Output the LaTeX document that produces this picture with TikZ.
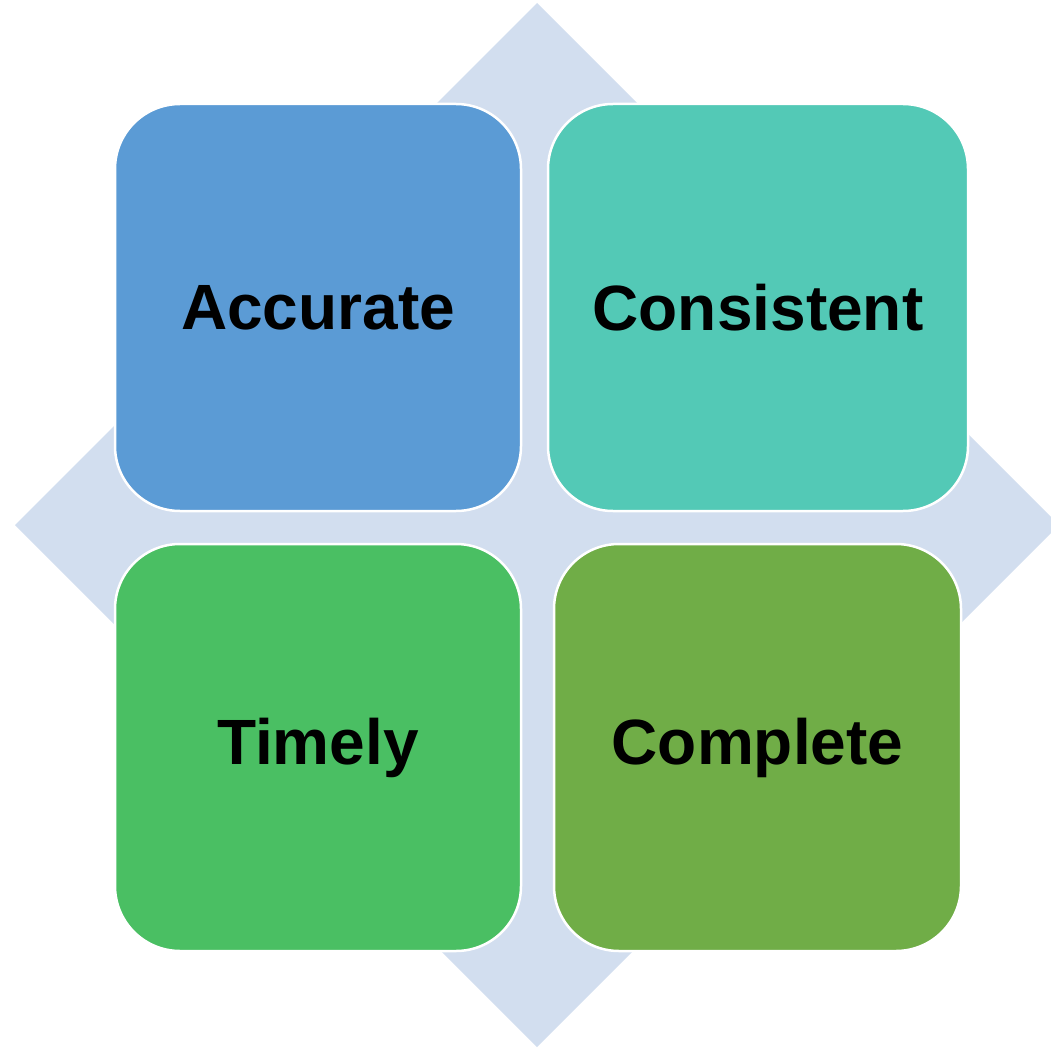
\documentclass[tikz,border=0pt]{standalone}
\usepackage{fontspec}
\setmainfont{Liberation Sans}
\usetikzlibrary{positioning}

\definecolor{diamondblue}{HTML}{D2DEEF}
\definecolor{accblue}{HTML}{5B9BD5}
\definecolor{conteal}{HTML}{53C9B6}
\definecolor{timgreen}{HTML}{4ABF63}
\definecolor{comgreen}{HTML}{70AD47}

\tikzset{
  quad/.style={draw=white, line width=2.5pt, rounded corners=65pt,
    minimum width=406pt, minimum height=407pt, inner sep=0pt,
    font=\fontsize{64}{64}\selectfont\bfseries, text=black}
}

\begin{document}
\begin{tikzpicture}[x=1pt,y=-1pt]

      \useasboundingbox (0,0) rectangle (1051,1048);

      % backdrop
      \begin{scope}
      \clip (0,0) rectangle (1051,1048);
      \path (537,3) coordinate (dtop);
      \path (1059,525) coordinate (dright);
      \path (537,1047) coordinate (dbottom);
      \path (15,525) coordinate (dleft);
      \fill[diamondblue] (dtop) -- (dright) -- (dbottom) -- (dleft) -- cycle;
      \end{scope}

      % quadrants
      \node[quad, fill=accblue] (acc) at (318,307.5) {Accurate};
      \node[quad, fill=conteal, minimum width=420pt] (con) at (758,307.5) {Consistent};
      \node[quad, fill=timgreen] (tim) at (318,747.5) {Timely};
      \node[quad, fill=comgreen, minimum width=407pt] (com) at (757.5,747.5) {Complete};

    \end{tikzpicture}
\end{document}
